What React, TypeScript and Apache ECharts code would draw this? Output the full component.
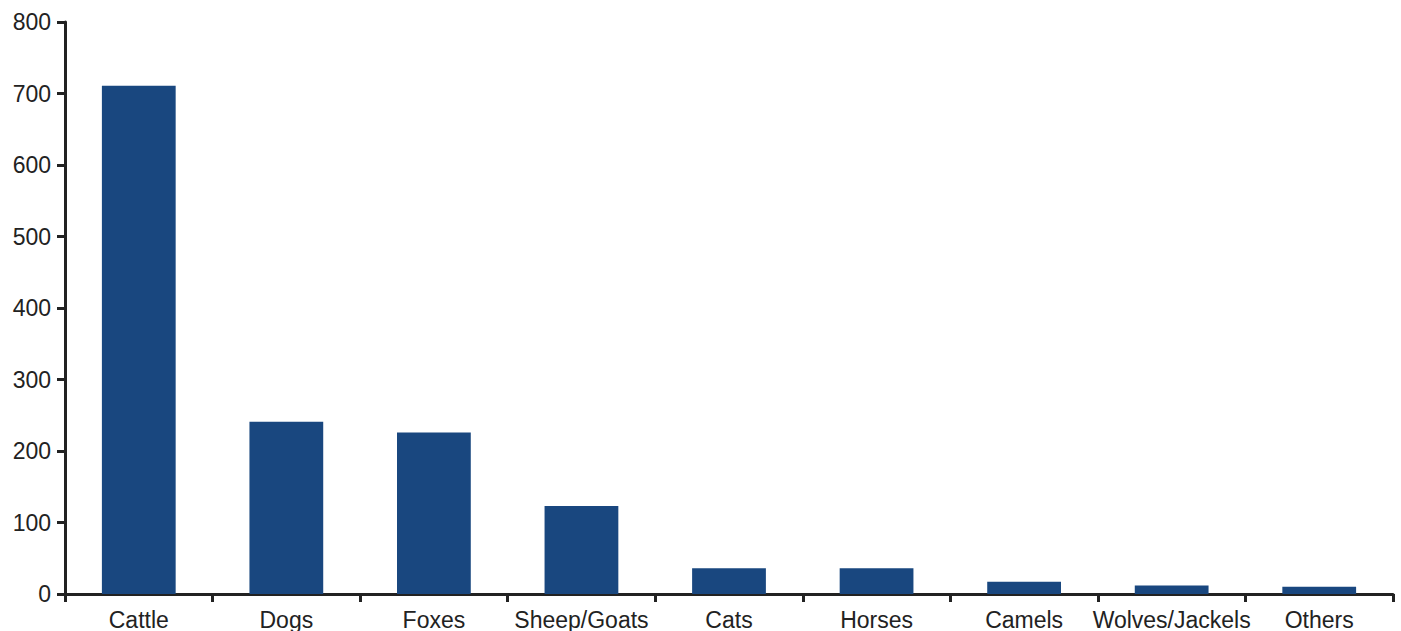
import React, { useEffect, useRef } from "react";
import * as echarts from "echarts";

const categories = ["Cattle", "Dogs", "Foxes", "Sheep/Goats", "Cats", "Horses", "Camels", "Wolves/Jackels", "Others"];
const values = [711, 241, 226, 123, 36, 36, 17, 12, 10];
const yTicks = [0, 100, 200, 300, 400, 500, 600, 700, 800];

export default function App() {
  const ref = useRef<HTMLDivElement>(null);
  useEffect(() => {
    if (!ref.current) return;
    const chart = echarts.init(ref.current, undefined, { renderer: "svg" });
    const axisColor = "#222222";
    chart.setOption({
      animation: false,
      backgroundColor: "#ffffff",
      grid: { left: 65, right: 8, top: 22, bottom: 37, containLabel: false },
      xAxis: {
        type: "category",
        data: categories,
        axisLine: { lineStyle: { color: axisColor, width: 3 } },
        axisTick: { show: true, length: 8, lineStyle: { color: axisColor, width: 3 } },
        axisLabel: {
          color: axisColor,
          fontSize: 23,
          fontFamily: "Liberation Sans, Arial, sans-serif",
          margin: 14,
          interval: 0,
        },
      },
      yAxis: {
        type: "value",
        min: yTicks[0],
        max: yTicks[yTicks.length - 1],
        interval: 100,
        splitLine: { show: false },
        axisLine: { show: true, lineStyle: { color: axisColor, width: 3 } },
        axisTick: { show: true, length: 8, lineStyle: { color: axisColor, width: 3 } },
        axisLabel: {
          color: axisColor,
          fontSize: 23,
          fontFamily: "Liberation Sans, Arial, sans-serif",
          margin: 14,
        },
      },
      series: [
        {
          type: "bar",
          data: values,
          barWidth: "50%",
          itemStyle: { color: "#19477f" },
        },
      ],
    });
    return () => chart.dispose();
  }, []);
  return <div ref={ref} style={{ position: "fixed", left: 0, top: 0, width: 1401, height: 631 }} />;
}
